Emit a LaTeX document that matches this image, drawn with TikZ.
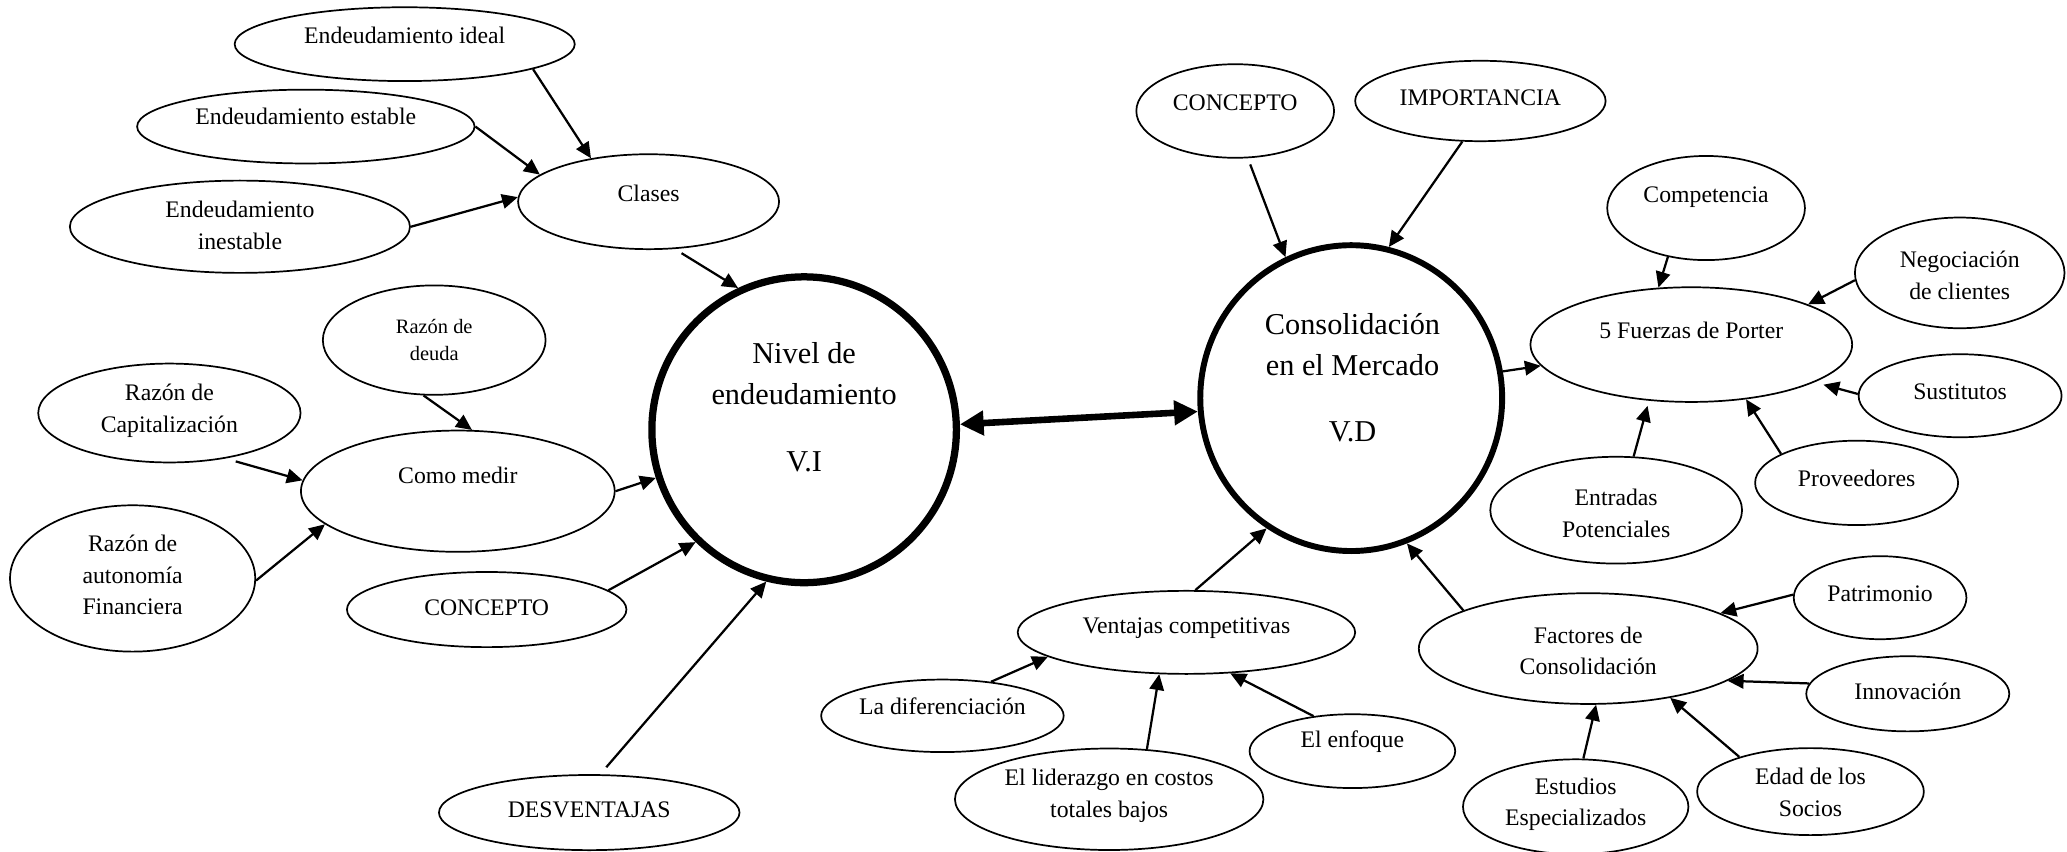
\documentclass[tikz,border=0pt]{standalone}
\usepackage{fontspec}
\setmainfont{Liberation Serif}
\usetikzlibrary{shapes.geometric,arrows.meta}

\begin{document}
\begin{tikzpicture}[x=1pt,y=-1pt,
  ov/.style 2 args={draw, ellipse, line width=1.3pt, inner sep=0pt,
    minimum width=#1pt, minimum height=#2pt},
  hub/.style={line width=#1},
  lbl/.style={font=\fontsize{18}{24}\selectfont, align=center, inner sep=0pt},
  small/.style={font=\fontsize{15.5}{21}\selectfont, align=center, inner sep=0pt},
  big/.style={font=\fontsize{23}{31}\selectfont, align=center, inner sep=0pt},
  link/.style={line width=1.7pt, -{Triangle[length=12pt,width=11pt]}},
  dbl/.style={line width=5pt, {Triangle[length=18pt,width=18pt]}-{Triangle[length=18pt,width=18pt]}},
]
\useasboundingbox (0,0) rectangle (1568,646);

% ---- left side: Nivel de endeudamiento ----
\node[ov={258}{56}] (ideal) at (307,33.5) {};
\node[lbl] (ideal-t) at (307,26.5) {Endeudamiento ideal};
\node[ov={256}{56}] (estable) at (232,96) {};
\node[lbl] (estable-t) at (232,88) {Endeudamiento estable};
\node[ov={258}{70}] (inestable) at (182,172) {};
\node[lbl] (inestable-t) at (182,171) {Endeudamiento\\inestable};
\node[ov={198}{72}] (clases) at (492,153) {};
\node[lbl] (clases-t) at (492,147) {Clases};
\node[ov={169}{83}] (deuda) at (329.4,258) {};
\node[small] (deuda-t) at (329.4,258) {Razón de\\deuda};
\node[ov={199}{75}] (capital) at (128.5,313.3) {};
\node[lbl] (capital-t) at (128.5,311.7) {Razón de\\Capitalización};
\node[ov={238}{92}] (medir) at (347.3,372.6) {};
\node[lbl] (medir-t) at (347.3,360.3) {Como medir};
\node[ov={186}{111}] (autonomia) at (100.6,438.8) {};
\node[lbl] (autonomia-t) at (100.6,436.2) {Razón de\\autonomía\\Financiera};
\node[ov={212}{57}] (conceptoL) at (369.2,462.4) {};
\node[lbl] (conceptoL-t) at (369.2,460.7) {CONCEPTO};
\node[ov={228}{57}] (desv) at (447,616.4) {};
\node[lbl] (desv-t) at (447,614.5) {DESVENTAJAS};

\node[ov={231}{232}, hub=5.5pt] (nivel) at (610,326) {};
\node[big] (nivel-t) at (610,309) {Nivel de\\endeudamiento\\[20pt]V.I};

% ---- right side: Consolidación en el Mercado ----
\node[ov={229}{232}, hub=4.5pt] (conso) at (1025,302) {};
\node[big] (conso-t) at (1026,286.5) {Consolidación\\en el Mercado\\[19pt]V.D};
\node[ov={150}{71}] (conceptoR) at (937,84.2) {};
\node[lbl] (conceptoR-t) at (937,77.8) {CONCEPTO};
\node[ov={190}{61}] (importancia) at (1123,76.6) {};
\node[lbl] (importancia-t) at (1123,74) {IMPORTANCIA};
\node[ov={150}{79}] (competencia) at (1294.2,157.8) {};
\node[lbl] (competencia-t) at (1294.2,149.2) {Competencia};
\node[ov={159}{84}] (negociacion) at (1486.6,207) {};
\node[lbl] (negociacion-t) at (1486.6,208.9) {Negociación\\de clientes};
\node[ov={244}{87}] (porter) at (1283,261.4) {};
\node[lbl] (porter-t) at (1283,250.3) {5 Fuerzas de Porter};
\node[ov={154}{63}] (sustitutos) at (1486.9,300.2) {};
\node[lbl] (sustitutos-t) at (1486.9,297.1) {Sustitutos};
\node[ov={154}{64}] (proveedores) at (1408.4,366.3) {};
\node[lbl] (proveedores-t) at (1408.4,362.9) {Proveedores};
\node[ov={191}{81}] (entradas) at (1226,387) {};
\node[lbl] (entradas-t) at (1226,389.4) {Entradas\\Potenciales};
\node[ov={256}{63}] (ventajas) at (900,479.7) {};
\node[lbl] (ventajas-t) at (900,476.6) {Ventajas competitivas};
\node[ov={184}{55}] (diferenciacion) at (714.9,543) {};
\node[lbl] (diferenciacion-t) at (714.9,536.1) {La diferenciación};
\node[ov={234}{77}] (liderazgo) at (841.4,606.3) {};
\node[lbl] (liderazgo-t) at (841.4,603.7) {El liderazgo en costos\\totales bajos};
\node[ov={156}{56}] (enfoque) at (1025.9,569.8) {};
\node[lbl] (enfoque-t) at (1025.9,562.6) {El enfoque};
\node[ov={257}{84}] (factores) at (1204.8,492) {};
\node[lbl] (factores-t) at (1204.8,493.7) {Factores de\\Consolidación};
\node[ov={131}{63}] (patrimonio) at (1426.2,453.4) {};
\node[lbl] (patrimonio-t) at (1426.2,450.1) {Patrimonio};
\node[ov={154}{57}] (innovacion) at (1447.2,526.3) {};
\node[lbl] (innovacion-t) at (1447.2,524.7) {Innovación};
\node[ov={171}{72}] (estudios) at (1195.3,612) {};
\node[lbl] (estudios-t) at (1195.3,610) {Estudios\\Especializados};
\node[ov={172}{66}] (edad) at (1373.4,600.5) {};
\node[lbl] (edad-t) at (1373.4,601.2) {Edad de los\\Socios};

% ---- connectors ----
\draw[link] (ideal.-11) -- (clases.143);
\draw[link] (estable.0) -- (clases.166);
\draw[link] (inestable.0) -- (clases.178);
\draw[link, shorten <=6pt] (clases.-61) -- (nivel.115);
\draw[link] (deuda.-101) -- (medir.77);
\draw[link, shorten <=8pt] (capital.-39) -- (medir.176);
\draw[link] (autonomia.-1) -- (medir.-166);
\draw[link] (medir.0) -- (nivel.-162);
\draw[link] (conceptoL.9) -- (nivel.-134);
\draw[link, shorten <=7pt] (desv.74) -- (nivel.-104.5);

\draw[dbl] (nivel.2.5) -- (conso.-175);

\draw[link, shorten <=5pt] (conceptoR.-75) -- (conso.115);
\draw[link] (importancia.-114) -- (conso.76);
\draw[link] (conso.10) -- (porter.-172);
\draw[link] (competencia.-128) -- (porter.120);
\draw[link] (negociacion.-176) -- (porter.19);
\draw[link, shorten >=7pt] (sustitutos.179) -- (porter.-17);
\draw[link] (proveedores.159) -- (porter.-45);
\draw[link, shorten >=4pt] (entradas.72) -- (porter.-127);
\draw[link] (ventajas.78) -- (conso.-123);
\draw[link] (factores.163) -- (conso.-69);
\draw[link] (diferenciacion.35) -- (ventajas.-170);
\draw[link] (liderazgo.53) -- (ventajas.-123);
\draw[link] (enfoque.138) -- (ventajas.-43);
\draw[link] (patrimonio.178) -- (factores.15);
\draw[link] (innovacion.174) -- (factores.-13);
\draw[link] (estudios.81) -- (factores.-82);
\draw[link] (edad.154) -- (factores.-31);
\end{tikzpicture}
\end{document}
